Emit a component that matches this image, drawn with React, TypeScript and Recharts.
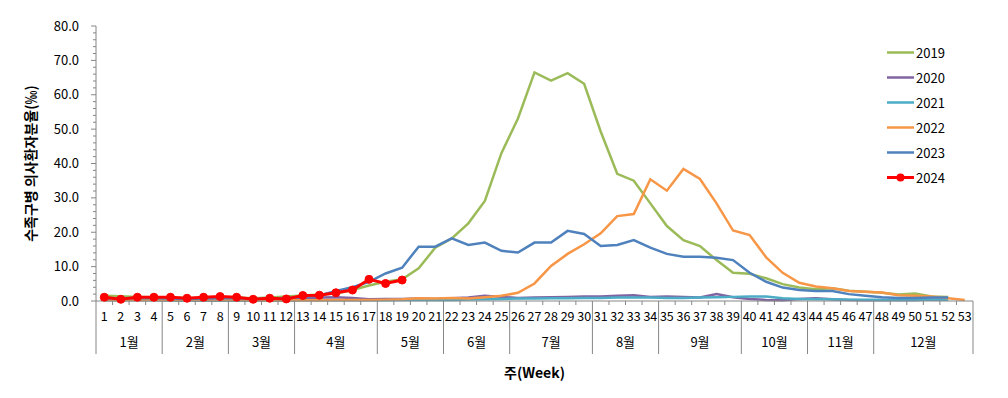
import React from "react"
import { Legend, Line, LineChart, XAxis, YAxis } from "recharts"

const weeks = [
  "1", "2", "3", "4", "5", "6", "7", "8", "9", "10", "11", "12", "13", "14", "15", "16", "17", "18",
  "19", "20", "21", "22", "23", "24", "25", "26", "27", "28", "29", "30", "31", "32", "33", "34", "35",
  "36", "37", "38", "39", "40", "41", "42", "43", "44", "45", "46", "47", "48", "49", "50", "51", "52", "53",
]

const monthLabels = ["1월", "2월", "3월", "4월", "5월", "6월", "7월", "8월", "9월", "10월", "11월", "12월"]
const monthWeeks = [4, 4, 4, 5, 4, 4, 5, 4, 5, 4, 4, 6]

const yTicks = [0, 2, 4, 6, 8, 10, 12, 14, 16, 18, 20, 22, 24, 26, 28, 30, 32, 34, 36, 38, 40, 42, 44, 46, 48, 50, 52, 54, 56, 58, 60, 62, 64, 66, 68, 70, 72, 74, 76, 78, 80]

const y2019 = [
  1.5, 1.4, 1.2, 1.1, 1.0, 0.9, 0.9, 1.0, 1.0, 0.8, 1.0, 1.3, 1.6, 1.9, 2.2, 3.2, 4.5, 5.6, 6.3, 9.5,
  15.5, 18.2, 22.6, 29.1, 43.0, 53.1, 66.5, 64.1, 66.3, 63.2, 49.3, 37.0, 35.0, 28.4, 21.8, 17.7, 16.0,
  11.9, 8.2, 7.9, 6.6, 4.9, 3.9, 3.4, 3.7, 3.0, 2.7, 2.4, 1.9, 2.2, 1.3, 1.2, null,
]
const y2020 = [
  0.6, 0.5, 0.6, 0.5, 0.6, 0.5, 0.6, 0.7, 0.6, 0.4, 0.5, 0.5, 0.8, 1.0, 1.1, 0.9, 0.5, 0.6, 0.6, 0.7,
  0.6, 0.8, 1.0, 1.5, 1.2, 0.9, 1.0, 1.1, 1.2, 1.3, 1.3, 1.5, 1.7, 1.2, 1.3, 1.2, 1.0, 2.0, 1.1, 0.6,
  0.3, 0.2, 0.6, 0.8, 0.5, 0.3, 0.2, 0.3, 0.3, 0.3, 0.4, 0.4, null,
]
const y2021 = [
  0.2, 0.2, 0.2, 0.2, 0.1, 0.1, 0.1, 0.1, 0.1, 0.1, 0.1, 0.1, 0.2, 0.2, 0.2, 0.2, 0.2, 0.2, 0.3, 0.3,
  0.3, 0.3, 0.4, 0.5, 0.6, 0.7, 0.7, 0.8, 0.8, 0.9, 0.9, 1.0, 1.0, 1.0, 0.9, 0.9, 1.0, 1.1, 1.2, 1.3,
  1.3, 0.8, 0.6, 0.5, 0.5, 0.4, 0.4, 0.3, 0.3, 0.3, 0.4, 0.4, null,
]
const y2022 = [
  0.3, 0.3, 0.3, 0.3, 0.3, 0.3, 0.3, 0.3, 0.3, 0.2, 0.2, 0.2, 0.2, 0.2, 0.3, 0.3, 0.3, 0.4, 0.5, 0.8,
  0.7, 0.9, 0.7, 1.1, 1.5, 2.4, 5.1, 10.2, 13.7, 16.5, 19.7, 24.7, 25.3, 35.4, 32.1, 38.4, 35.5, 28.4,
  20.5, 19.2, 12.7, 8.2, 5.3, 4.2, 3.7, 2.9, 2.7, 2.5, 1.7, 1.5, 1.3, 0.8, 0.3,
]
const y2023 = [
  0.7, 0.8, 0.9, 0.8, 0.7, 0.6, 0.7, 0.8, 0.8, 0.6, 0.7, 0.9, 1.2, 1.6, 2.9, 4.0, 5.6, 8.0, 9.7, 15.8,
  15.8, 18.2, 16.3, 17.0, 14.6, 14.1, 17.0, 17.0, 20.4, 19.5, 16.0, 16.3, 17.7, 15.5, 13.7, 12.9, 12.9,
  12.6, 11.9, 8.2, 5.6, 3.9, 3.2, 2.9, 2.9, 2.0, 1.5, 1.1, 0.9, 0.9, 1.0, 1.0, null,
]
const y2024 = [1.1, 0.5, 1.1, 1.1, 1.1, 0.8, 1.1, 1.3, 1.1, 0.5, 0.8, 0.6, 1.6, 1.7, 2.4, 3.2, 6.3, 5.1, 6.1]

const series = [
  { key: "2019", color: "#9BBB59" },
  { key: "2020", color: "#8064A2" },
  { key: "2021", color: "#4BACC6" },
  { key: "2022", color: "#F79646" },
  { key: "2023", color: "#4F81BD" },
  { key: "2024", color: "#FF0000" },
]

const data = weeks.map((w, i) => ({
  week: w,
  "2019": y2019[i],
  "2020": y2020[i],
  "2021": y2021[i],
  "2022": y2022[i],
  "2023": y2023[i],
  "2024": i < y2024.length ? y2024[i] : null,
}))

const FONT = "'Noto Sans CJK KR', 'Noto Sans', sans-serif"
const AXIS = "#868686"
const X_TICK_SIZE = 4
const X_TICK_MARGIN = 4

// first week index of each month
const monthStart: Record<number, number> = {}
let acc = 0
monthWeeks.forEach((n, m) => {
  monthStart[acc] = m
  acc += n
})

function WeekTick(props: any) {
  const { x, y, payload, index } = props
  const half = payload.offset || 8.27
  const axisY = y - X_TICK_SIZE - X_TICK_MARGIN
  const left = x - half
  const m = monthStart[index]
  return (
    <g>
      {m !== undefined ? (
        <>
          <line x1={left} x2={left} y1={axisY} y2={axisY + 53} stroke={AXIS} />
          <text x={left + monthWeeks[m] * half} y={axisY + 41} textAnchor="middle" dy="0.35em" fontSize={13} fill="#000" fontFamily={FONT}>
            {monthLabels[m]}
          </text>
        </>
      ) : (
        <line x1={left} x2={left} y1={axisY} y2={axisY + 4} stroke={AXIS} />
      )}
      {index === weeks.length - 1 && <line x1={x + half} x2={x + half} y1={axisY} y2={axisY + 53} stroke={AXIS} />}
      <text x={x} y={axisY + 16} textAnchor="middle" dy="0.35em" fontSize={12.5} fill="#000" fontFamily={FONT}>
        {payload.value}
      </text>
    </g>
  )
}

function ValueTick(props: any) {
  const { x, y, payload } = props
  const major = payload.value % 10 === 0
  const axisX = x + 17
  return (
    <g>
      <line x1={axisX - (major ? 5 : 3)} x2={axisX} y1={y} y2={y} stroke={AXIS} />
      {major && (
        <text x={x} y={y} textAnchor="end" dy="0.35em" fontSize={13} fill="#000" fontFamily={FONT}>
          {payload.value.toFixed(1)}
        </text>
      )}
    </g>
  )
}

function renderLegend() {
  return (
    <div style={{ fontFamily: FONT, fontSize: 13 }}>
      {series.map((s) => (
        <div key={s.key} style={{ display: "flex", alignItems: "center", height: 25 }}>
          <svg width={30} height={25}>
            <line x1={2} x2={29} y1={12.5} y2={12.5} stroke={s.color} strokeWidth={s.key === "2024" ? 3 : 2.5} />
            {s.key === "2024" && <circle cx={15.5} cy={12.5} r={4} fill={s.color} />}
          </svg>
          <span style={{ marginLeft: 1, color: "#000" }}>{s.key}</span>
        </div>
      ))}
    </div>
  )
}

export default function App() {
  return (
    <div style={{ position: "absolute", left: 0, top: 0, background: "#fff" }}>
      <LineChart width={1008} height={398} data={data} margin={{ top: 26, right: 35, bottom: 7, left: 0 }}>
        <XAxis
          dataKey="week"
          scale="band"
          interval={0}
          height={90}
          tickLine={false}
          tickSize={X_TICK_SIZE}
          tickMargin={X_TICK_MARGIN}
          stroke={AXIS}
          tick={<WeekTick />}
          label={({ viewBox }: any) => (
            <text x={viewBox.x + viewBox.width / 2} y={viewBox.y + 72} textAnchor="middle" dy="0.35em" fontSize={14} fontWeight="bold" fill="#000" fontFamily={FONT}>
              주(Week)
            </text>
          )}
        />
        <YAxis
          width={96}
          domain={[0, 80]}
          ticks={yTicks}
          interval={0}
          tickLine={false}
          tickSize={5}
          tickMargin={12}
          stroke={AXIS}
          tick={<ValueTick />}
          label={({ viewBox }: any) => {
            const cx = viewBox.x + 31
            const cy = viewBox.y + viewBox.height / 2
            return (
              <text x={cx} y={cy} transform={`rotate(-90 ${cx} ${cy})`} textAnchor="middle" dy="0.35em" fontSize={14} fontWeight="bold" fill="#000" fontFamily={FONT}>
                수족구병 의사환자분율(‰)
              </text>
            )
          }}
        />
        <Legend
          layout="vertical"
          verticalAlign="middle"
          align="center"
          content={renderLegend}
          wrapperStyle={{ position: "absolute", left: 885, top: 40, width: 110 }}
        />
        {series.map((s) => (
          <Line
            key={s.key}
            type="linear"
            dataKey={s.key}
            stroke={s.color}
            strokeWidth={s.key === "2024" ? 3 : 2.5}
            dot={s.key === "2024" ? { r: 4, fill: s.color, stroke: s.color, strokeWidth: 1 } : false}
            activeDot={false}
            isAnimationActive={false}
            connectNulls={false}
          />
        ))}
      </LineChart>
    </div>
  )
}
